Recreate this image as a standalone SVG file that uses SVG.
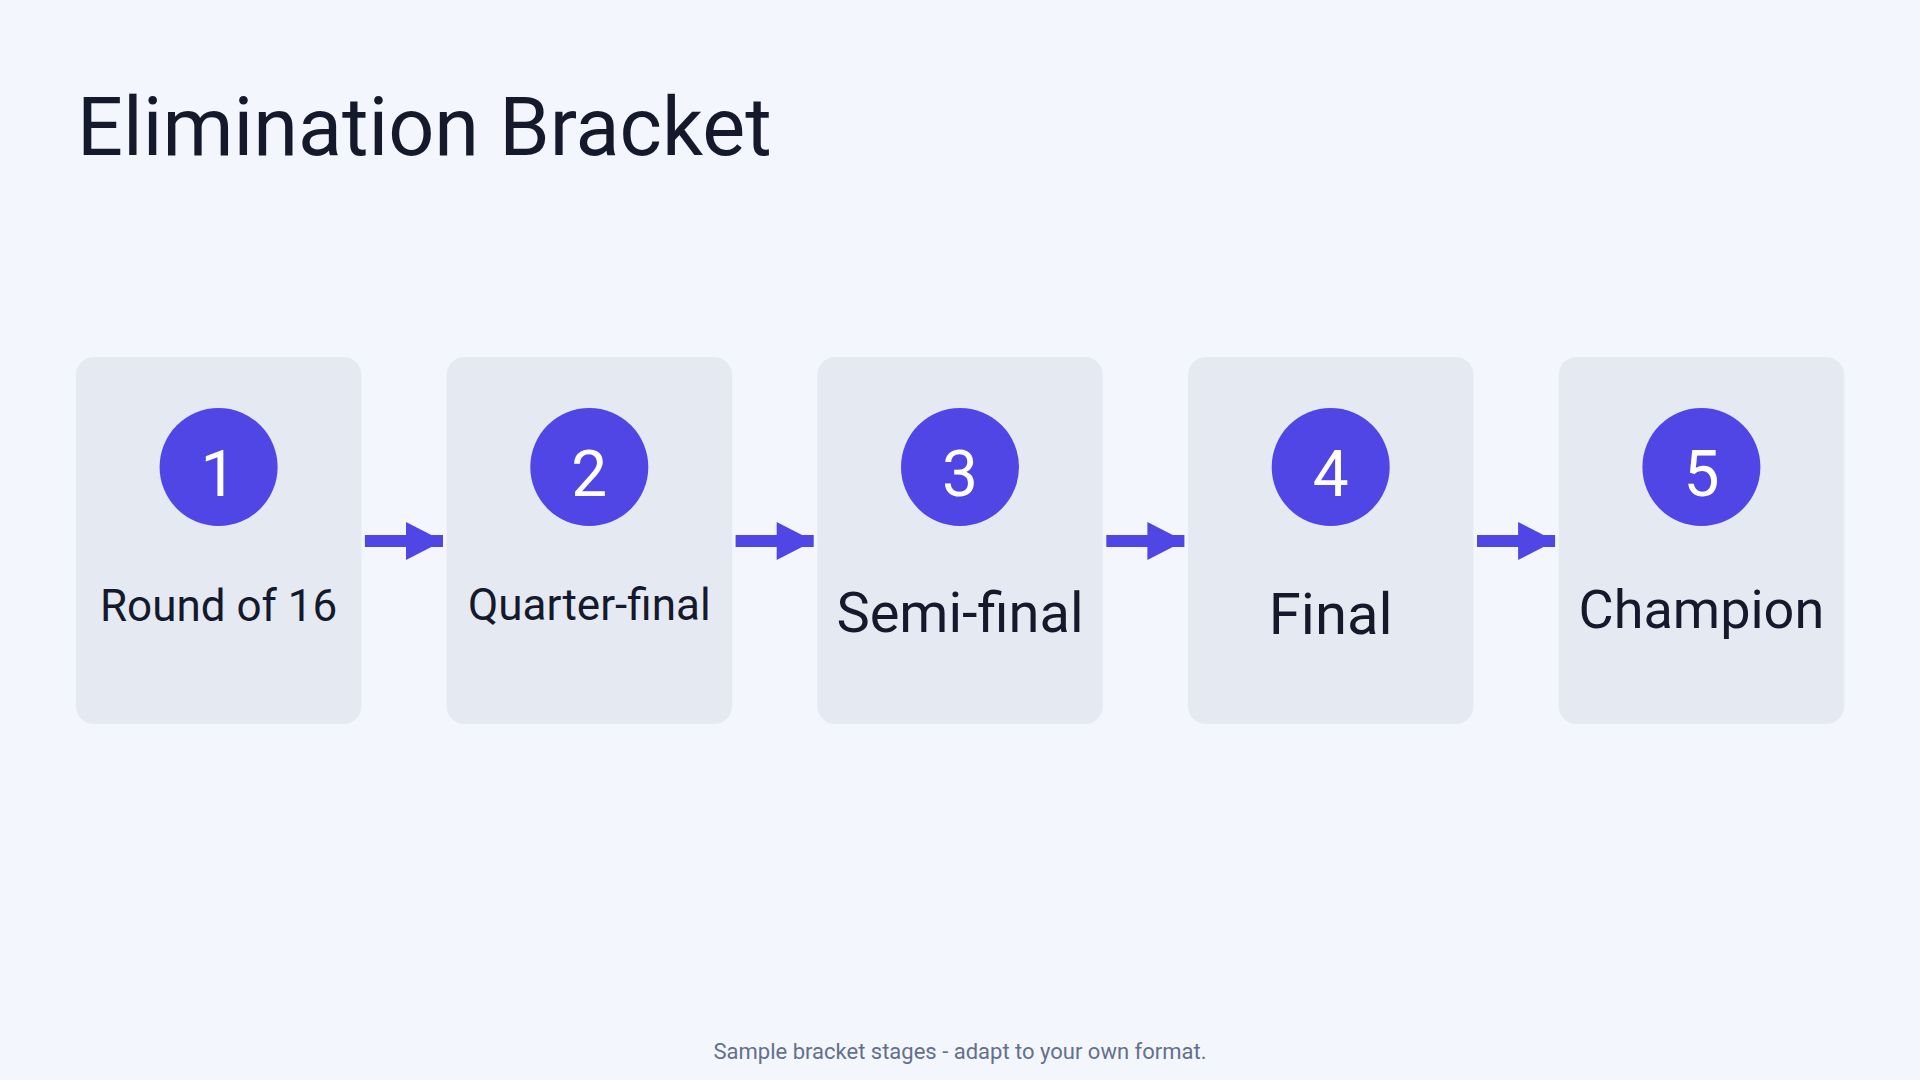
<svg xmlns="http://www.w3.org/2000/svg" width="1920" height="1080" viewBox="0 0 1920 1080">
<style>
.bg{fill:#f3f6fd}
.box{fill:#e5e9f2}
.dot{fill:#4f46e5}
.num{fill:#ffffff;font-family:Roboto,"Liberation Sans",sans-serif;font-size:64px;text-anchor:middle}
.lbl{fill:#141a2c;font-family:Roboto,"Liberation Sans",sans-serif;text-anchor:middle}
.title{fill:#141a2c;font-family:Roboto,"Liberation Sans",sans-serif;font-size:81px}
.foot{fill:#64708a;font-family:Roboto,"Liberation Sans",sans-serif;font-size:22px;text-anchor:middle}
.conn line{stroke:#4f46e5;stroke-width:12}
.conn polygon{fill:#4f46e5}
</style>
<rect class="bg" x="0" y="0" width="1920" height="1080"/>
<text class="title" x="77" y="155">Elimination Bracket</text>
<g id="node1">
<rect class="box" x="75.9" y="357" width="285.5" height="367" rx="18"/>
<circle class="dot" cx="218.6" cy="467" r="59"/>
<text class="num" x="218.6" y="496">1</text>
<text class="lbl" x="218.6" y="621" font-size="44">Round of 16</text>
</g>
<g id="node2">
<rect class="box" x="446.6" y="357" width="285.5" height="367" rx="18"/>
<circle class="dot" cx="589.3" cy="467" r="59"/>
<text class="num" x="589.3" y="496">2</text>
<text class="lbl" x="589.3" y="620" font-size="44">Quarter-final</text>
</g>
<g id="node3">
<rect class="box" x="817.3" y="357" width="285.5" height="367" rx="18"/>
<circle class="dot" cx="960" cy="467" r="59"/>
<text class="num" x="960" y="496">3</text>
<text class="lbl" x="960" y="632" font-size="56">Semi-final</text>
</g>
<g id="node4">
<rect class="box" x="1188" y="357" width="285.5" height="367" rx="18"/>
<circle class="dot" cx="1330.7" cy="467" r="59"/>
<text class="num" x="1330.7" y="496">4</text>
<text class="lbl" x="1330.7" y="634" font-size="58">Final</text>
</g>
<g id="node5">
<rect class="box" x="1558.7" y="357" width="285.5" height="367" rx="18"/>
<circle class="dot" cx="1701.4" cy="467" r="59"/>
<text class="num" x="1701.4" y="496">5</text>
<text class="lbl" x="1701.4" y="628" font-size="54">Champion</text>
</g>
<g id="connectors" class="conn">
<line x1="364.9" y1="541" x2="443" y2="541"/><polygon points="406,522 443,541 406,560"/>
<line x1="735.6" y1="541" x2="813.7" y2="541"/><polygon points="776.7,522 813.7,541 776.7,560"/>
<line x1="1106.3" y1="541" x2="1184.4" y2="541"/><polygon points="1147.4,522 1184.4,541 1147.4,560"/>
<line x1="1477" y1="541" x2="1555.1" y2="541"/><polygon points="1518.1,522 1555.1,541 1518.1,560"/>
</g>
<text class="foot" x="960" y="1059">Sample bracket stages - adapt to your own format.</text>
</svg>
